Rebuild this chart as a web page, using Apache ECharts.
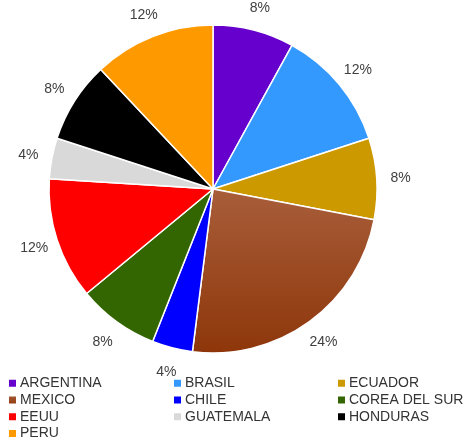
<!DOCTYPE html>
<html><head><meta charset="utf-8">
<script src="https://cdn.jsdelivr.net/npm/echarts@6/dist/echarts.min.js"></script>
<style>html,body{margin:0;padding:0;background:#fff}#c{width:469px;height:440px}</style>
</head><body><div id="c"></div>
<script>
const categories = ['ARGENTINA','BRASIL','ECUADOR','MEXICO','CHILE','COREA DEL SUR','EEUU','GUATEMALA','HONDURAS','PERU'];
const values = [8, 12, 8, 24, 4, 8, 12, 4, 8, 12];
const colors = ['#6600CC','#3399FF','#CC9900','#9C4418','#0000FF','#336600','#FF0000','#D9D9D9','#000000','#FF9900'];
const legendCol1 = ['ARGENTINA','MEXICO','EEUU','PERU'];
const legendCol2 = ['BRASIL','CHILE','GUATEMALA'];
const legendCol3 = ['ECUADOR','COREA DEL SUR','HONDURAS'];

const chart = echarts.init(document.getElementById('c'), null, {renderer:'canvas'});
const legendBase = {
  orient:'vertical', top: 375, height: 80, padding: 0, itemWidth: 9, itemHeight: 9, itemGap: 0, icon:'rect',
  selectedMode:false,
  textStyle:{fontFamily:'Liberation Sans', fontSize:14, color:'#333', lineHeight:16.7, padding:[0,0,0,-2]}
};
const mexicoGrad = {type:'linear',x:0,y:0,x2:0,y2:1,colorStops:[{offset:0,color:'#A85E3A'},{offset:1,color:'#8E360A'}]};
chart.setOption({
  animation:false,
  legend:[
    Object.assign({}, legendBase, {left: 7, data: legendCol1}),
    Object.assign({}, legendBase, {left: 172, data: legendCol2}),
    Object.assign({}, legendBase, {left: 336, data: legendCol3})
  ],
  series:[{
    type:'pie',
    center:[213,189],
    radius:164,
    startAngle:90,
    clockwise:true,
    data: categories.map((n,i)=>({name:n, value:values[i],
      itemStyle: {color: n==='MEXICO' ? mexicoGrad : colors[i]}})),
    itemStyle:{borderColor:'#fff', borderWidth:1.5},
    label:{show:false},
    labelLine:{show:false},
    emphasis:{disabled:true}
  },{
    type:'pie',
    center:[213,190],
    radius:[164,206],
    startAngle:90,
    clockwise:true,
    silent:true,
    data: categories.map((n,i)=>({name:n, value:values[i]})),
    itemStyle:{color:'rgba(0,0,0,0)', borderWidth:0},
    label:{show:true, position:'inside', formatter: p => values[p.dataIndex] + '%',
      fontFamily:'Liberation Sans', fontSize:14, color:'#404040'},
    labelLine:{show:false},
    emphasis:{disabled:true}
  }]
});
</script></body></html>
